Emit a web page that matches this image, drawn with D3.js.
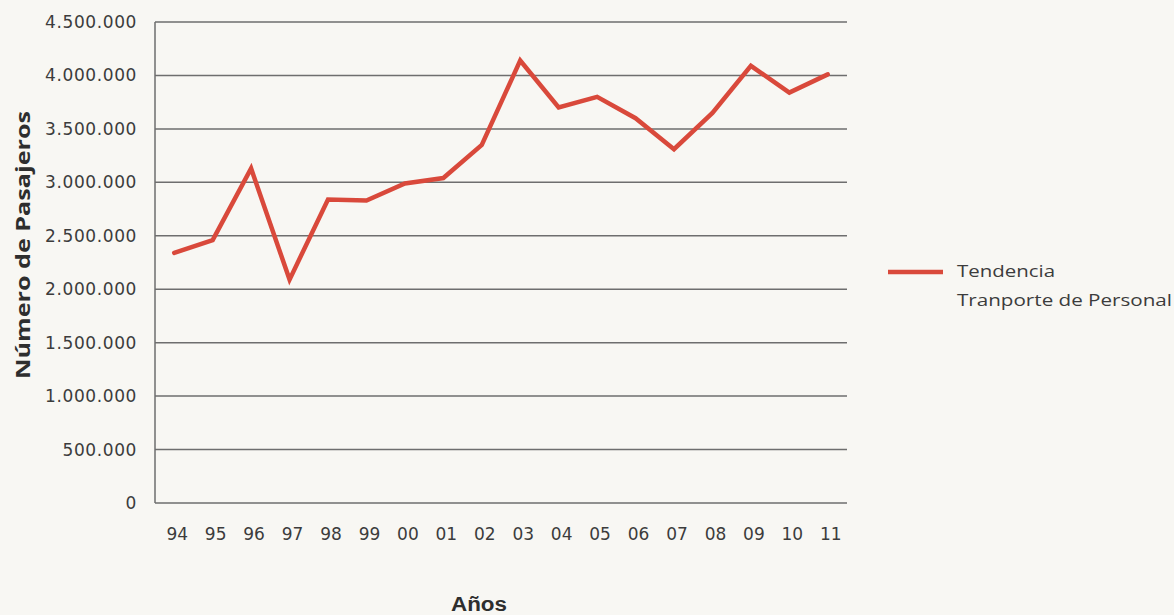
<!DOCTYPE html>
<html>
<head>
<meta charset="utf-8">
<script src="https://cdn.jsdelivr.net/npm/d3@7"></script>
<style>
  html, body { margin: 0; padding: 0; background: #f8f7f3; }
  svg { display: block; }
  text { font-family: "DejaVu Sans", sans-serif; }
</style>
</head>
<body>
<svg id="chart" width="1174" height="615"></svg>
<script>
// Annual passengers, "Transporte de Personal"
const years = ["94","95","96","97","98","99","00","01","02","03","04","05","06","07","08","09","10","11"];
const passengers = [2340000, 2460000, 3130000, 2090000, 2840000, 2830000, 2990000, 3040000, 3350000,
                    4140000, 3700000, 3800000, 3600000, 3310000, 3650000, 4090000, 3840000, 4010000];
const yTicks = [0, 500000, 1000000, 1500000, 2000000, 2500000, 3000000, 3500000, 4000000, 4500000];
const legendLines = ["Tendencia", "Tranporte de Personal"];

const svg = d3.select("#chart");
const plot = { left: 155, right: 847, top: 22, bottom: 503 };
const textColor = "#3c3c3c";
const gridColor = "#6e6e6e";
const lineColor = "#d9493b";

const x = d3.scaleBand().domain(years).range([plot.left, plot.right]);
const y = d3.scaleLinear().domain([0, 4500000]).range([plot.bottom, plot.top]);

const fmt = v => d3.format(",")(v).replace(/,/g, ".");

// horizontal gridlines
svg.append("g")
  .selectAll("line")
  .data(yTicks)
  .join("line")
  .attr("x1", plot.left).attr("x2", plot.right)
  .attr("y1", d => y(d)).attr("y2", d => y(d))
  .attr("stroke", gridColor).attr("stroke-width", 1.5);

// y axis line
svg.append("line")
  .attr("x1", plot.left).attr("x2", plot.left)
  .attr("y1", plot.top).attr("y2", plot.bottom)
  .attr("stroke", gridColor).attr("stroke-width", 1.5);

// y axis labels
const yAxis = d3.axisLeft(y).tickValues(yTicks).tickFormat(fmt).tickSize(0).tickPadding(18);
const gy = svg.append("g").attr("transform", `translate(${plot.left},0)`).call(yAxis);
gy.select(".domain").remove();
gy.selectAll("text")
  .attr("fill", textColor).attr("font-size", 17).attr("letter-spacing", "0.6px")
  .style("font-family", "'DejaVu Sans', sans-serif");

// x axis labels
const xAxis = d3.axisBottom(x).tickSize(0).tickPadding(25);
const gx = svg.append("g").attr("transform", `translate(0,${plot.bottom})`).call(xAxis);
gx.select(".domain").remove();
gx.selectAll("text")
  .attr("fill", textColor).attr("font-size", 17)
  .attr("dx", 3)
  .style("font-family", "'DejaVu Sans', sans-serif");

// trend line
const line = d3.line()
  .x((d, i) => x(years[i]) + x.bandwidth() / 2)
  .y(d => y(d));

svg.append("path")
  .datum(passengers)
  .attr("d", line)
  .attr("fill", "none")
  .attr("stroke", lineColor)
  .attr("stroke-width", 4.5)
  .attr("stroke-linejoin", "miter")
  .attr("stroke-linecap", "round");

// axis titles
svg.append("text")
  .attr("transform", "translate(30,245) rotate(-90)")
  .attr("text-anchor", "middle")
  .attr("font-size", 19).attr("font-weight", "bold").attr("fill", "#2e2e2e")
  .attr("textLength", 268).attr("lengthAdjust", "spacingAndGlyphs")
  .style("font-family", "'Open Sans', sans-serif")
  .text("Número de Pasajeros");

svg.append("text")
  .attr("x", 479).attr("y", 611)
  .attr("text-anchor", "middle")
  .attr("font-size", 20).attr("font-weight", "bold").attr("fill", "#2e2e2e")
  .attr("textLength", 56).attr("lengthAdjust", "spacingAndGlyphs")
  .style("font-family", "'Liberation Sans', Arial, sans-serif")
  .text("Años");

// legend
const legend = svg.append("g");
legend.append("line")
  .attr("x1", 888).attr("x2", 943).attr("y1", 272).attr("y2", 272)
  .attr("stroke", lineColor).attr("stroke-width", 4.5);
const legendWidths = [98, 215];
legend.selectAll("text")
  .data(legendLines)
  .join("text")
  .attr("x", 957)
  .attr("y", (d, i) => 277 + i * 29)
  .attr("font-size", 16).attr("fill", textColor)
  .attr("textLength", (d, i) => legendWidths[i]).attr("lengthAdjust", "spacingAndGlyphs")
  .style("font-family", "'Open Sans', sans-serif")
  .text(d => d);
</script>
</body>
</html>
